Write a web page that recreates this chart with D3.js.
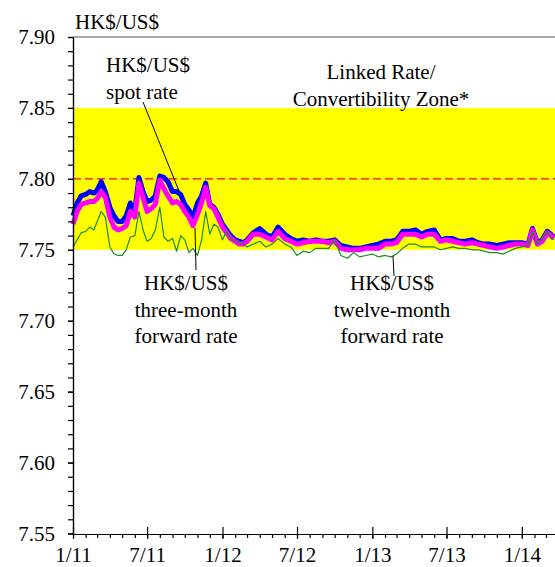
<!DOCTYPE html>
<html>
<head>
<meta charset="utf-8">
<script src="https://cdn.jsdelivr.net/npm/d3@7"></script>
<style>
  body { margin: 0; background: #fff; }
</style>
</head>
<body>
<div id="chart"></div>
<script>
/* HK$/US$ spot and forward rates, 2011 - early 2014 */

const height = 567,
    width = 555,
    margin = ({ top: 37, right: 0, bottom: 33, left: 73 });

const serif = "Liberation Serif";

// observation dates (10-day steps through Feb 2012, then twice a month)
const dates = [
  "2011-01-01","2011-01-11","2011-01-21","2011-02-01","2011-02-11","2011-02-21",
  "2011-03-01","2011-03-11","2011-03-21","2011-04-01","2011-04-11","2011-04-21",
  "2011-05-01","2011-05-11","2011-05-21","2011-06-01","2011-06-11","2011-06-21",
  "2011-07-01","2011-07-11","2011-07-21","2011-08-01","2011-08-11","2011-08-21",
  "2011-09-01","2011-09-11","2011-09-21","2011-10-01","2011-10-11","2011-10-21",
  "2011-11-01","2011-11-11","2011-11-21","2011-12-01","2011-12-11","2011-12-21",
  "2012-01-01","2012-01-11","2012-01-21","2012-02-01","2012-02-11","2012-02-21",
  "2012-03-01","2012-03-16","2012-04-01","2012-04-16","2012-05-01","2012-05-16",
  "2012-06-01","2012-06-16","2012-07-01","2012-07-16","2012-08-01","2012-08-16",
  "2012-09-01","2012-09-16","2012-10-01","2012-10-16","2012-11-01","2012-11-16",
  "2012-12-01","2012-12-16","2013-01-01","2013-01-16","2013-02-01","2013-02-16",
  "2013-03-01","2013-03-16","2013-04-01","2013-04-16","2013-05-01","2013-05-16",
  "2013-06-01","2013-06-16","2013-07-01","2013-07-16","2013-08-01","2013-08-16",
  "2013-09-01","2013-09-16","2013-10-01","2013-10-16","2013-11-01","2013-11-16",
  "2013-12-01","2013-12-16","2014-01-01","2014-01-16","2014-01-27","2014-02-08",
  "2014-02-20","2014-03-04","2014-03-13","2014-03-20"
];

const spotRate = [
  7.774,7.783,7.788,7.789,7.791,7.790,7.792,7.798,7.791,7.780,7.774,7.770,
  7.770,7.774,7.783,7.778,7.801,7.791,7.784,7.785,7.788,7.802,7.801,7.798,
  7.791,7.791,7.789,7.782,7.778,7.773,7.783,7.788,7.797,7.782,7.780,7.775,
  7.768,7.764,7.760,7.757,7.756,7.755,7.757,7.762,7.765,7.761,7.759,7.766,
  7.761,7.758,7.756,7.757,7.756,7.757,7.756,7.756,7.757,7.753,7.752,7.751,
  7.751,7.752,7.753,7.754,7.756,7.756,7.757,7.763,7.763,7.764,7.761,7.763,
  7.764,7.757,7.758,7.758,7.756,7.756,7.757,7.755,7.754,7.754,7.753,7.754,
  7.755,7.755,7.755,7.754,7.765,7.755,7.757,7.763,7.761,7.759
];

const threeMonth = [
  7.768,7.777,7.782,7.783,7.784,7.784,7.786,7.791,7.787,7.773,7.766,7.764,
  7.765,7.767,7.777,7.773,7.797,7.787,7.777,7.779,7.782,7.799,7.793,7.788,
  7.783,7.784,7.782,7.777,7.773,7.767,7.775,7.783,7.794,7.781,7.779,7.773,
  7.766,7.762,7.758,7.756,7.754,7.754,7.756,7.761,7.761,7.759,7.757,7.763,
  7.758,7.756,7.754,7.755,7.756,7.756,7.756,7.755,7.756,7.751,7.750,7.750,
  7.750,7.751,7.751,7.751,7.754,7.754,7.755,7.761,7.761,7.761,7.759,7.761,
  7.761,7.756,7.757,7.756,7.755,7.754,7.755,7.754,7.753,7.752,7.751,7.752,
  7.753,7.754,7.754,7.753,7.764,7.754,7.756,7.762,7.760,7.758
];

const twelveMonth = [
  7.752,7.757,7.762,7.763,7.766,7.764,7.770,7.777,7.773,7.752,7.747,7.746,
  7.746,7.750,7.759,7.760,7.777,7.764,7.756,7.758,7.764,7.780,7.759,7.756,
  7.758,7.749,7.760,7.757,7.748,7.751,7.746,7.757,7.777,7.761,7.768,7.766,
  7.757,7.763,7.758,7.756,7.755,7.754,7.752,7.754,7.756,7.752,7.754,7.758,
  7.754,7.752,7.746,7.749,7.748,7.751,7.751,7.751,7.757,7.746,7.744,7.748,
  7.745,7.746,7.747,7.745,7.746,7.745,7.747,7.751,7.754,7.754,7.752,7.752,
  7.752,7.750,7.751,7.752,7.751,7.751,7.750,7.750,7.749,7.748,7.748,7.747,
  7.749,7.751,7.752,7.753,7.763,7.754,7.758,7.763,7.759,7.757
];

const yMajorTicks = [7.55, 7.60, 7.65, 7.70, 7.75, 7.80, 7.85, 7.90];
const linkedZone = [7.75, 7.85];
const linkedRate = 7.80;

const svg = d3.select("#chart")
  .append("svg")
  .attr("width", width)
  .attr("height", height)
  .attr("viewBox", [0, 0, width, height])
  .attr("font-family", serif);

const parseDate = d3.timeParse("%Y-%m-%d");

let data = dates.map((d, i) => ({
  date: parseDate(d),
  spot: spotRate[i],
  m3: threeMonth[i],
  m12: twelveMonth[i]
}));

let x = d3.scaleTime()
  .domain([new Date(2011, 0, 1), new Date(2014, 2, 23)])
  .range([margin.left, width - margin.right]);

let y = d3.scaleLinear()
  .domain([7.55, 7.90])
  .range([height - margin.bottom - 0.5, margin.top]);

// yellow linked rate / convertibility zone
svg.append("rect")
  .attr("x", x.range()[0])
  .attr("y", y(linkedZone[1]))
  .attr("width", x.range()[1] - x.range()[0])
  .attr("height", y(linkedZone[0]) - y(linkedZone[1]))
  .attr("fill", "#ffff00");

// 7.80 linked rate
svg.append("line")
  .attr("x1", x.range()[0])
  .attr("x2", x.range()[1])
  .attr("y1", y(linkedRate))
  .attr("y2", y(linkedRate))
  .attr("stroke", "#ff0000")
  .attr("stroke-width", 1.3)
  .attr("stroke-dasharray", "8,4");

// top frame line
svg.append("line")
  .attr("x1", x.range()[0])
  .attr("x2", x.range()[1])
  .attr("y1", y(7.90))
  .attr("y2", y(7.90))
  .attr("stroke", "#555")
  .attr("stroke-width", 1.2);

// series lines
const lineFor = key => d3.line()
  .x(d => x(d.date))
  .y(d => y(d[key]));

svg.append("path")
  .datum(data)
  .attr("d", lineFor("spot"))
  .attr("fill", "none")
  .attr("stroke", "#0000ff")
  .attr("stroke-width", 5)
  .attr("stroke-linejoin", "round");

svg.append("path")
  .datum(data)
  .attr("d", lineFor("m3"))
  .attr("fill", "none")
  .attr("stroke", "#ff00ff")
  .attr("stroke-width", 5)
  .attr("stroke-linejoin", "round");

svg.append("path")
  .datum(data)
  .attr("d", lineFor("m12"))
  .attr("fill", "none")
  .attr("stroke", "#1a8c1a")
  .attr("stroke-width", 1.2)
  .attr("stroke-linejoin", "round");

// Y axis: minor ticks every 0.01, labels every 0.05
svg.append("g")
  .attr("class", "y-minor")
  .attr("transform", `translate(${margin.left},0)`)
  .call(d3.axisLeft(y).tickValues(d3.range(0, 36).map(i => 7.55 + i * 0.01)).tickSize(5).tickFormat("").tickSizeOuter(0));

svg.append("g")
  .attr("class", "y-axis")
  .attr("transform", `translate(${margin.left},0)`)
  .call(d3.axisLeft(y).tickValues(yMajorTicks).tickSize(5).tickPadding(13).tickFormat(d3.format(".2f")).tickSizeOuter(0));

// X axis: monthly minor ticks below, half-year ticks crossing the line
svg.append("g")
  .attr("class", "x-minor")
  .attr("transform", `translate(0,${height - margin.bottom})`)
  .call(d3.axisBottom(x).ticks(d3.timeMonth.every(1)).tickSize(4).tickFormat("").tickSizeOuter(0));

svg.append("g")
  .attr("class", "x-major-up")
  .attr("transform", `translate(0,${height - margin.bottom})`)
  .call(d3.axisTop(x).ticks(d3.timeMonth.every(6)).tickSize(7).tickFormat("").tickSizeOuter(0))
  .call(g => g.select(".domain").remove());

svg.append("g")
  .attr("class", "x-axis")
  .attr("transform", `translate(0,${height - margin.bottom})`)
  .call(d3.axisBottom(x).ticks(d3.timeMonth.every(6)).tickSize(5).tickPadding(8).tickFormat(d3.timeFormat("%-m/%y")).tickSizeOuter(0));

svg.selectAll("g").attr("font-family", serif);

svg.selectAll(".y-axis text, .x-axis text")
  .attr("font-size", 21)
  .attr("fill", "#000");

svg.selectAll(".domain, .tick line")
  .attr("stroke", "#000")
  .attr("stroke-width", 1.2);

// unit label
svg.append("text")
  .attr("x", margin.left + 2)
  .attr("y", 29)
  .attr("font-size", 21)
  .text("HK$/US$");

// annotations
const note = (lines, xPos, yPos, anchor) => {
  let t = svg.append("text")
    .attr("text-anchor", anchor)
    .attr("font-size", 21);
  lines.forEach((s, i) => {
    t.append("tspan")
      .attr("x", xPos)
      .attr("y", yPos + i * 26.5)
      .text(s);
  });
};

const leader = (x1, y1, x2, y2) => svg.append("line")
  .attr("x1", x1).attr("y1", y1)
  .attr("x2", x2).attr("y2", y2)
  .attr("stroke", "#000")
  .attr("stroke-width", 1);

note(["HK$/US$", "spot rate"], 106, 72, "start");
leader(143, 102, 179, 191);

note(["Linked Rate/", "Convertibility Zone*"], 381, 79, "middle");

note(["HK$/US$", "three-month", "forward rate"], 186, 290, "middle");
leader(195, 228, 196, 270);

note(["HK$/US$", "twelve-month", "forward rate"], 392, 290, "middle");
leader(393, 256, 394, 276);

svg.selectAll("text").attr("font-family", serif);
</script>
</body>
</html>
